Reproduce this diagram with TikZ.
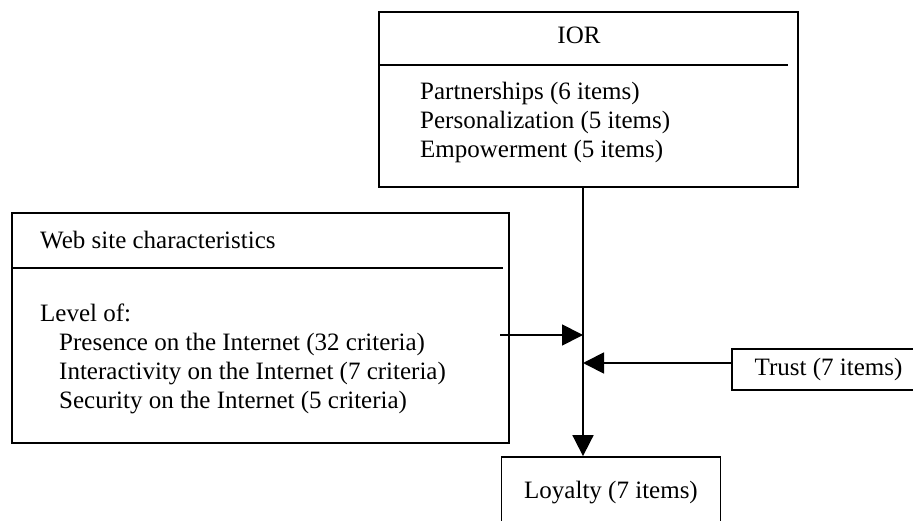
\documentclass[tikz,border=0pt]{standalone}
\usepackage{fontspec}
\setmainfont{Liberation Serif}
\usepackage{tikz}
\usetikzlibrary{arrows.meta}
\usetikzlibrary{positioning}

\begin{document}
\begin{tikzpicture}[x=1pt,y=-1pt,
        caja/.style={draw,line width=1.8pt,inner sep=0pt},
        texto/.style={font=\fontsize{25}{28.75}\selectfont,inner sep=0pt},
        linea/.style={line width=1.8pt},
        flecha/.style={line width=1.8pt,-{Triangle[length=21pt,width=21pt]}}]
        \useasboundingbox (0,0) rectangle (913,521);
        \clip (0,0) rectangle (913,521);

        % Cajas
        \node[caja,minimum width=419pt,minimum height=175pt] (ior) at (588.5,99.5) {};
        \node[caja,minimum width=497pt,minimum height=230pt] (web) at (260.5,328) {};
        \node[caja,texto,minimum width=193pt,minimum height=41pt] (trust) at (828.5,369.5) {Trust (7 items)};
        \node[caja,texto,minimum width=219pt,minimum height=72pt] (loyalty) at (611,493) {Loyalty (7 items)};

        % Separadores
        \draw[linea] (ior.west |- 0,65) -- ([xshift=-11pt]ior.east |- 0,65);
        \draw[linea] (web.west |- 0,268) -- ([xshift=-7pt]web.east |- 0,268);

        % Textos IOR
        \node[texto,anchor=base] (iortit) at (579,44) {IOR};
        \node[texto,anchor=base west] (p1) at (420,100) {Partnerships (6 items)};
        \node[texto,anchor=base west] (p2) at (420,128.75) {Personalization (5 items)};
        \node[texto,anchor=base west] (p3) at (420,157.5) {Empowerment (5 items)};

        % Textos web
        \node[texto,anchor=base west] (webtit) at (40,249) {Web site characteristics};
        \node[texto,anchor=base west] (nivel) at (40,322) {Level of:};
        \node[texto,anchor=base west] (w1) at (59,350.75) {Presence on the Internet (32 criteria)};
        \node[texto,anchor=base west] (w2) at (59,379.5) {Interactivity on the Internet (7 criteria)};
        \node[texto,anchor=base west] (w3) at (59,408.25) {Security on the Internet (5 criteria)};

        % Conexiones
        \coordinate (c1) at (583,335);
        \coordinate (c2) at (583,363);
        \coordinate (wsal) at (500,335);
        \draw[linea] (ior.south -| c1) -- (c1);
        \draw[flecha] (c1) -- (loyalty.north -| c1);
        \draw[flecha] (wsal) -- (c1);
        \draw[flecha] (trust.west |- c2) -- (c2);
\end{tikzpicture}
\end{document}
